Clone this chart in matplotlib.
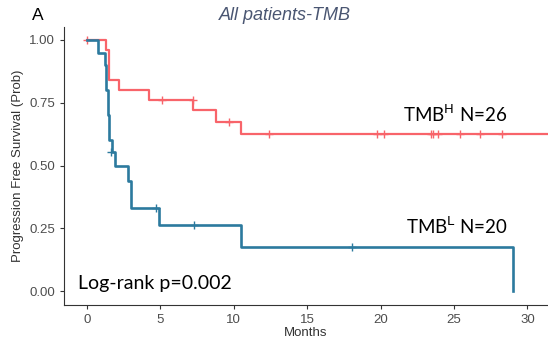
import numpy as np
import matplotlib.pyplot as plt

# step curves (time in months, survival prob)
high_times = [0, 1.3, 1.5, 2.2, 4.2, 7.2, 8.8, 10.5, 31.5]
high_surv = [1.0, 0.96, 0.84, 0.80, 0.76, 0.72, 0.675, 0.625, 0.625]
high_cens_t = [0.0, 5.1, 7.2, 9.7, 12.4, 19.75, 20.2, 23.4, 23.6, 23.9, 25.4, 26.8, 28.3]
high_cens_s = [1.0, 0.76, 0.76, 0.675, 0.625, 0.625, 0.625, 0.625, 0.625, 0.625, 0.625, 0.625, 0.625]

low_times = [0, 0.75, 1.2, 1.3, 1.4, 1.5, 1.7, 1.9, 2.8, 3.0, 4.9, 10.5, 29.0]
low_surv = [1.0, 0.95, 0.90, 0.80, 0.70, 0.60, 0.555, 0.50, 0.44, 0.33, 0.265, 0.177, 0.0]
low_cens_t = [1.65, 4.7, 7.3, 18.05]
low_cens_s = [0.555, 0.33, 0.265, 0.177]

red = '#F8646A'
blue = '#2C7A9E'

plt.rcParams['font.family'] = ['Liberation Sans', 'DejaVu Sans']

fig = plt.figure(figsize=(5.48, 3.45), dpi=100)
ax = fig.add_axes([0.1168, 0.116, 0.8832, 0.8046])

ax.step(high_times, high_surv, where='post', color=red, lw=1.6)
ax.plot(high_cens_t, high_cens_s, '+', color=red, ms=6, mew=1.0)
ax.step(low_times, low_surv, where='post', color=blue, lw=1.9)
ax.plot(low_cens_t, low_cens_s, '+', color=blue, ms=6, mew=1.0)

ax.set_xlim(-1.57, 31.4)
ax.set_ylim(-0.055, 1.05)
ax.set_xticks([0, 5, 10, 15, 20, 25, 30])
ax.set_yticks([0, 0.25, 0.5, 0.75, 1.0])
ax.set_yticklabels(['0.00', '0.25', '0.50', '0.75', '1.00'])
ax.spines['top'].set_visible(False)
ax.spines['right'].set_visible(False)
ax.spines['left'].set_color('#333333')
ax.spines['bottom'].set_color('#333333')
ax.tick_params(labelsize=9.5, colors='#333333', labelcolor='#4D4D4D', length=3, width=0.8)
ax.set_xlabel('Months', fontsize=9.5, color='#333333', labelpad=1)
ax.set_ylabel('Progression Free Survival (Prob)', fontsize=9.5, color='#333333', labelpad=4)

fig.text(0.058, 0.955, 'A', fontsize=12.5, va='center', ha='left')
fig.text(0.52, 0.955, 'All patients-TMB', fontsize=13, style='italic',
         color='#4A5672', ha='center', va='center')

ax.text(25.05, 0.66, r'TMB$^{\mathrm{H}}$ N=26', fontsize=13.5, fontfamily='Lato',
        ha='center', va='bottom')
ax.text(25.2, 0.215, r'TMB$^{\mathrm{L}}$ N=20', fontsize=13.5, fontfamily='Lato',
        ha='center', va='bottom')
ax.text(-0.65, 0.03, 'Log-rank p=0.002', fontsize=14, fontfamily='Lato',
        ha='left', va='center')

fig.savefig('out.png', dpi=100)
